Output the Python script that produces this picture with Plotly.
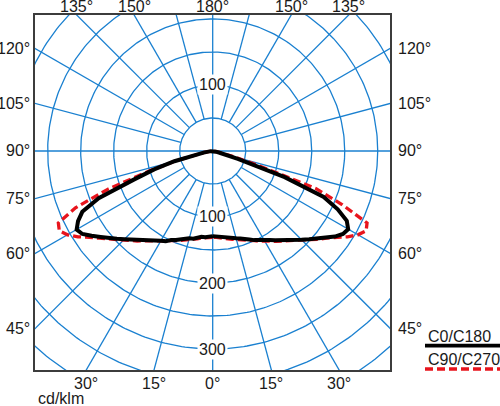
import numpy as np
import plotly.graph_objects as go

# gamma angles (deg from nadir) and intensities in cd/klm
gamma = [0, 2.5, 5, 7.5, 10, 12.5, 15, 17.5, 20, 22.5, 25, 27.5, 30, 32.5, 35,
         37.5, 40, 42.5, 45, 47.5, 50, 52.5, 55, 57.5, 60, 62.5, 65, 67.5, 70,
         72.5, 75, 77.5, 80, 85, 90]
c0 = [129, 130, 131, 131, 134, 136, 137, 140, 143, 146, 149, 154, 157, 161, 166,
      171, 176, 182, 189, 197, 206, 214, 224, 234, 238, 230, 218, 187, 128,
      93, 60, 30, 14, 3, 0]
c180 = [129, 130, 131, 132, 133, 135, 137, 139, 141, 145, 149, 152, 156, 160, 165,
        171, 177, 183, 190, 198, 207, 216, 226, 234, 237, 229, 209, 182, 116,
        40, 12, 5, 2, 0, 0]
c90 = [131, 131, 132, 133, 135, 137, 139, 141, 144, 147, 150, 154, 158, 162, 167,
       172, 178, 184, 191, 199, 208, 217, 228, 242, 254, 262, 258, 225, 168,
       100, 58, 28, 13, 3, 0]
c270 = [131, 131, 132, 133, 135, 137, 139, 141, 144, 147, 150, 154, 158, 162, 167,
        172, 178, 184, 191, 199, 208, 217, 228, 242, 254, 262, 258, 212, 166,
        70, 30, 10, 4, 0, 0]

circle_radii = [50, 100, 150, 200, 250, 300, 350, 400, 450]
spoke_angles = list(range(0, 360, 15))
radial_labels = [(100, "100"), (-100, "100"), (-200, "200"), (-300, "300")]
side_angles = [45, 60, 75, 90, 105, 120]
bottom_angles = [0, 15, 30]
top_angles = [135, 150, 180]

X0, X1, Y0, Y1 = -269.2, 268.6, -331.8, 206.0
GRID = "#1a80d0"
FONT = dict(family="Liberation Sans, Arial, sans-serif", size=16, color="#1a1a1a")


def to_xy(left, right):
    g = np.radians(gamma)
    xl = -np.array(left) * np.sin(g)
    yl = -np.array(left) * np.cos(g)
    xr = np.array(right) * np.sin(g)
    yr = -np.array(right) * np.cos(g)
    return np.concatenate([xl, xr[::-1]]), np.concatenate([yl, yr[::-1]])


# grid: circles + spokes
gx, gy = [], []
t = np.linspace(0, 2 * np.pi, 361)
for r in circle_radii:
    gx += list(r * np.cos(t)) + [None]
    gy += list(r * np.sin(t)) + [None]
for a in spoke_angles:
    r0 = 0 if a % 90 == 0 else 50
    ar = np.radians(a)
    gx += [r0 * np.sin(ar), 500 * np.sin(ar), None]
    gy += [-r0 * np.cos(ar), -500 * np.cos(ar), None]

fig = go.Figure()
fig.add_trace(go.Scatter(x=gx, y=gy, mode="lines", hoverinfo="skip",
                         line=dict(color=GRID, width=1.3)))

bx, by = to_xy(c0, c180)
rx, ry = to_xy(c90, c270)
fig.add_trace(go.Scatter(x=rx, y=ry, mode="lines", name="C90/C270",
                         line=dict(color="#e8141c", width=3.3, dash="8px,4px")))
fig.add_trace(go.Scatter(x=bx, y=by, mode="lines", name="C0/C180",
                         line=dict(color="black", width=4)))

ann = []
for yv, txt in radial_labels:
    ann.append(dict(x=0, y=yv, text=txt, showarrow=False, bgcolor="white",
                    borderpad=1, font=FONT))
for a in side_angles:
    yv = -abs(X0) / np.tan(np.radians(a))
    ann.append(dict(x=X0, y=yv, text=f"{a}°", showarrow=False, xanchor="right",
                    yanchor="middle", xshift=-3, font=FONT))
    yv = -abs(X1) / np.tan(np.radians(a))
    ann.append(dict(x=X1, y=yv, text=f"{a}°", showarrow=False, xanchor="left",
                    yanchor="middle", xshift=6, font=FONT))
for a in bottom_angles:
    xv = abs(Y0) * np.tan(np.radians(a))
    for s in ([1] if a == 0 else [-1, 1]):
        ann.append(dict(x=s * xv, y=Y0, text=f"{a}°", showarrow=False,
                        yanchor="top", yshift=-3, font=FONT))
for a in top_angles:
    xv = -Y1 * np.tan(np.radians(a))
    for s in ([1] if a == 180 else [-1, 1]):
        ann.append(dict(x=s * xv, y=Y1, text=f"{a}°", showarrow=False,
                        yanchor="bottom", yshift=-2, font=FONT))


def px(p):
    return (p - 35) / 355


def py(p):
    return (370 - p) / 355


ann.append(dict(xref="paper", yref="paper", x=px(36), y=py(399), text="cd/klm",
                showarrow=False, xanchor="left", yanchor="middle", font=FONT))
ann.append(dict(xref="paper", yref="paper", x=px(426), y=py(336), text="C0/C180",
                showarrow=False, xanchor="left", yanchor="middle", font=FONT))
ann.append(dict(xref="paper", yref="paper", x=px(426), y=py(359), text="C90/C270",
                showarrow=False, xanchor="left", yanchor="middle", font=FONT))

shapes = [
    dict(type="line", xref="paper", yref="paper", x0=px(425), x1=px(500),
         y0=py(345.7), y1=py(345.7), line=dict(color="black", width=3.8)),
    dict(type="line", xref="paper", yref="paper", x0=px(425), x1=px(500),
         y0=py(369), y1=py(369), line=dict(color="#e8141c", width=3.3, dash="8px,4px")),
]

fig.update_layout(
    width=500, height=406,
    margin=dict(l=35, r=110, t=15, b=36),
    paper_bgcolor="white", plot_bgcolor="white",
    showlegend=False,
    annotations=ann, shapes=shapes,
)
fig.update_xaxes(range=[X0, X1], showgrid=False, zeroline=False, showticklabels=False,
                 ticks="", showline=True, mirror=True, linecolor="#3c3c3c", linewidth=2,
                 fixedrange=True)
fig.update_yaxes(range=[Y0, Y1], showgrid=False, zeroline=False, showticklabels=False,
                 ticks="", showline=True, mirror=True, linecolor="#3c3c3c", linewidth=2,
                 fixedrange=True)

fig.write_html("out.html", config=dict(displayModeBar=False),
               post_script="document.body.style.margin='0';")
